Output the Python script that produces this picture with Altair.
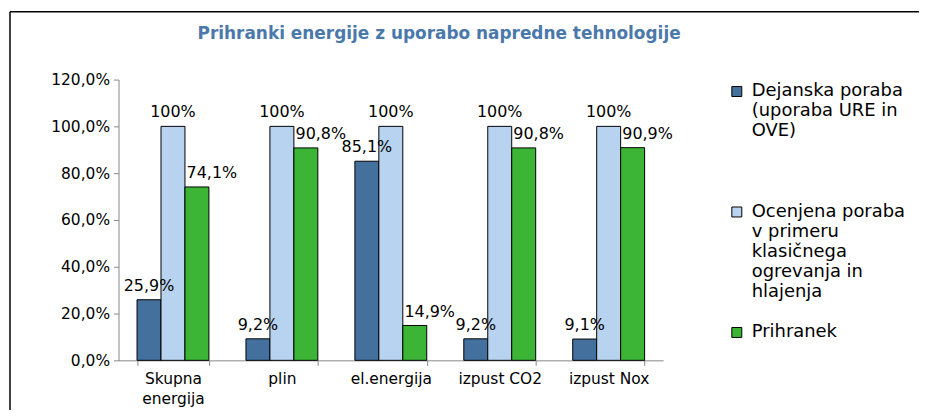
import altair as alt
import pandas as pd

categories = ["Skupna energija", "plin", "el.energija", "izpust CO2", "izpust Nox"]
series = [
    "Dejanska poraba\n(uporaba URE in\nOVE)\n\n",
    "Ocenjena poraba\nv primeru\nklasičnega\nogrevanja in\nhlajenja",
    "Prihranek",
]
dejanska = [0.259, 0.092, 0.851, 0.092, 0.091]
ocenjena = [1.0, 1.0, 1.0, 1.0, 1.0]
prihranek = [0.741, 0.908, 0.149, 0.908, 0.909]
dejanska_labels = ["25,9%", "9,2%", "85,1%", "9,2%", "9,1%"]
ocenjena_labels = ["100%", "100%", "100%", "100%", "100%"]
prihranek_labels = ["74,1%", "90,8%", "14,9%", "90,8%", "90,9%"]
colors = ["#44709e", "#b7d3f0", "#3cb435"]
title_text = "Prihranki energije z uporabo napredne tehnologije"

rows = []
for vals, labs, s in [(dejanska, dejanska_labels, series[0]),
                      (ocenjena, ocenjena_labels, series[1]),
                      (prihranek, prihranek_labels, series[2])]:
    for c, v, l in zip(categories, vals, labs):
        rows.append({"cat": c, "series": s, "value": v, "label": l})
df = pd.DataFrame(rows)

FONT = "DejaVu Sans"

x_enc = alt.X("cat:N", sort=categories, title=None,
              scale=alt.Scale(paddingInner=0.34, paddingOuter=0.17),
              axis=alt.Axis(labelAngle=0, tickBand="extent", domainColor="#868686",
                            tickColor="#868686", tickSize=5, labelFontSize=15.5,
                            labelFont=FONT, labelColor="black", labelPadding=6,
                            labelLineHeight=20,
                            labelExpr="datum.label == 'Skupna energija' ? split(datum.label, ' ') : datum.label"))
y_enc = alt.Y("value:Q", title=None,
              scale=alt.Scale(domain=[0, 1.2], nice=False),
              axis=alt.Axis(values=[0, 0.2, 0.4, 0.6, 0.8, 1.0, 1.2], grid=False,
                            domainColor="#868686", tickColor="#868686", tickSize=5,
                            labelFontSize=15.5, labelFont=FONT, labelColor="black",
                            labelPadding=4,
                            labelExpr="replace(format(datum.value, '.1%'), '.', ',')"))
xoff = alt.XOffset("series:N", sort=series)

bars = alt.Chart(df).mark_bar(stroke="black", strokeWidth=1).encode(
    x=x_enc, y=y_enc, xOffset=xoff,
    color=alt.Color("series:N", sort=series,
                    scale=alt.Scale(domain=series, range=colors),
                    legend=alt.Legend(title=None, orient="none", legendX=612, legendY=3,
                                      symbolType="square", symbolSize=100,
                                      symbolStrokeColor="black", symbolStrokeWidth=1,
                                      labelFontSize=18, labelFont=FONT, labelColor="black",
                                      labelLimit=400, labelOffset=6, rowPadding=23,
                                      labelExpr="split(datum.label, '\\n')")),
)

def labels(sname, dx):
    return alt.Chart(df).transform_filter(alt.datum.series == sname).mark_text(
        baseline="alphabetic", dy=-9, dx=dx, fontSize=16, font=FONT, color="black"
    ).encode(x=alt.X("cat:N", sort=categories), y="value:Q",
             xOffset=xoff, text="label:N")

one = pd.DataFrame({"a": [0]})
frame_top = alt.Chart(one).mark_rule(color="black", strokeWidth=1.5).encode(
    x=alt.value(-109), x2=alt.value(804), y=alt.value(-68))
frame_left = alt.Chart(one).mark_rule(color="black", strokeWidth=1.5).encode(
    x=alt.value(-109), y=alt.value(-68), y2=alt.value(332))
title = alt.Chart(one).mark_text(fontSize=17, font=FONT, fontWeight="bold",
                                 color="#4a78ab", align="center", baseline="middle").encode(
    x=alt.value(322), y=alt.value(-46), text=alt.value(title_text))

chart = alt.layer(frame_top, frame_left, title, bars,
                  labels(series[0], 0), labels(series[1], 0), labels(series[2], 15)
                  ).properties(
    width=547, height=282,
    padding={"left": 1, "top": 2, "right": 0, "bottom": 0},
).configure_view(strokeWidth=0)

chart.save("out.html", embed_options={"renderer": "svg", "actions": False})
